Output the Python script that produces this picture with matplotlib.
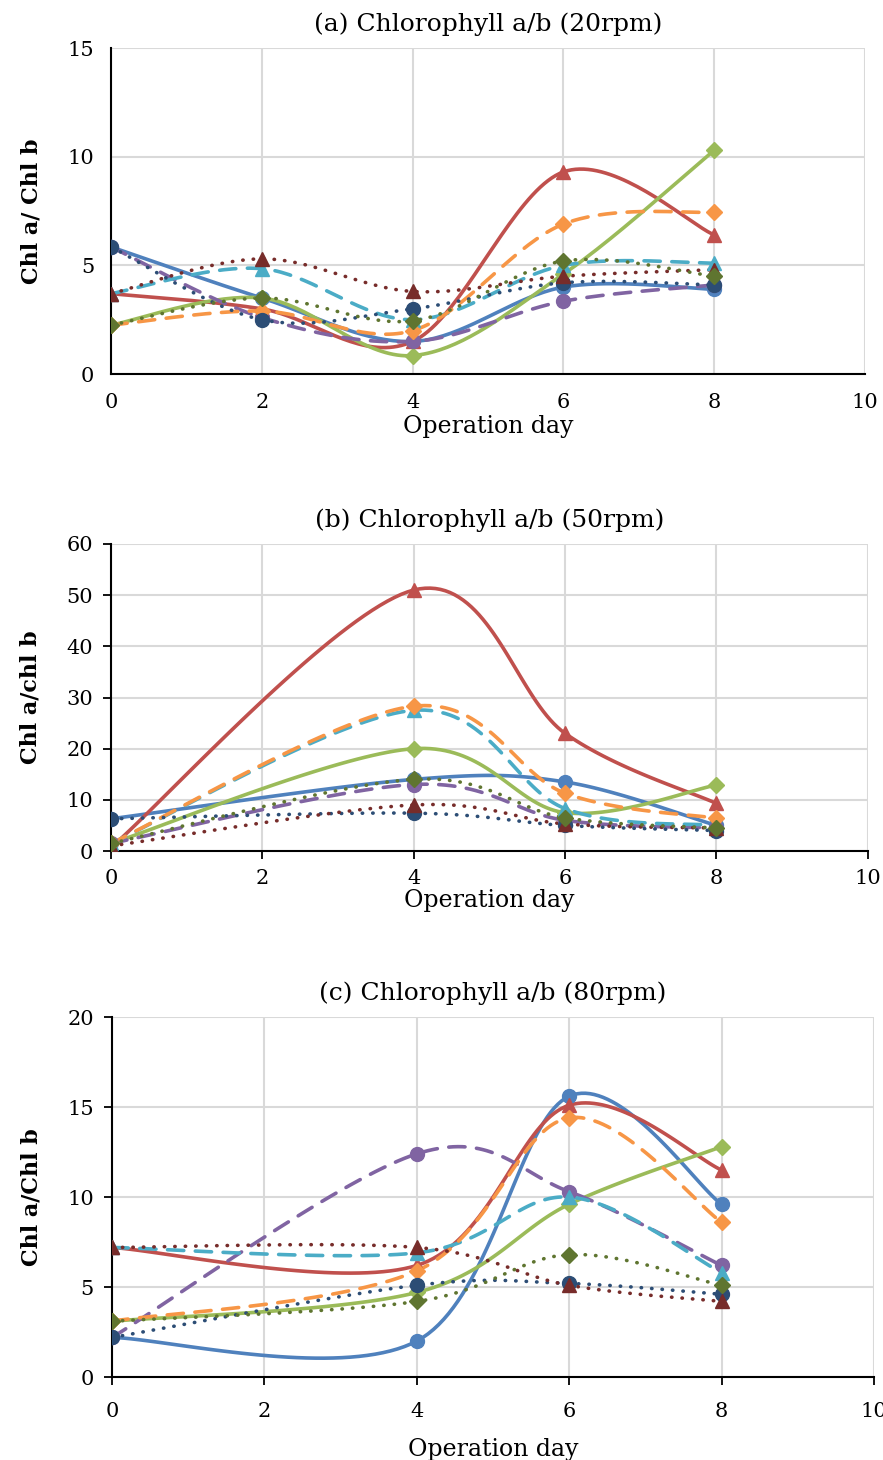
import matplotlib.pyplot as plt
import numpy as np

plt.rcParams['font.family'] = ['DejaVu Serif']

# ---- data ----
days_a = [0, 2, 4, 6, 8]
days_bc = [0, 4, 6, 8]

# series order: solid (circle, triangle, diamond), dashed (...), dotted (...)
chl_20 = {
    'blue':   [5.85, 3.5, 1.5, 4.0, 3.9],
    'red':    [3.7, 3.0, 1.5, 9.3, 6.4],
    'green':  [2.25, 3.5, 0.85, 4.6, 10.3],
    'purple': [5.85, 2.6, 1.5, 3.35, 4.1],
    'aqua':   [3.7, 4.85, 2.5, 5.0, 5.1],
    'orange': [2.25, 2.9, 2.0, 6.9, 7.45],
    'dblue':  [5.85, 2.5, 3.0, 4.2, 4.1],
    'dred':   [3.7, 5.3, 3.8, 4.5, 4.8],
    'dgreen': [2.25, 3.5, 2.45, 5.2, 4.5],
}
chl_50 = {
    'blue':   [6.3, 14.0, 13.5, 5.0],
    'red':    [0.7, 51.0, 23.0, 9.3],
    'green':  [1.5, 20.0, 7.5, 12.9],
    'purple': [1.5, 13.0, 6.0, 4.5],
    'aqua':   [1.5, 27.5, 8.3, 5.0],
    'orange': [1.5, 28.3, 11.3, 6.4],
    'dblue':  [6.3, 7.4, 5.0, 4.0],
    'dred':   [1.0, 9.0, 5.3, 4.5],
    'dgreen': [1.5, 14.0, 6.5, 4.5],
}
chl_80 = {
    'blue':   [2.2, 2.0, 15.6, 9.6],
    'red':    [7.2, 6.2, 15.1, 11.5],
    'green':  [3.1, 4.7, 9.6, 12.8],
    'purple': [2.2, 12.4, 10.3, 6.2],
    'aqua':   [7.2, 6.9, 10.0, 5.8],
    'orange': [3.1, 5.9, 14.4, 8.6],
    'dblue':  [2.2, 5.1, 5.2, 4.6],
    'dred':   [7.2, 7.2, 5.1, 4.2],
    'dgreen': [3.1, 4.2, 6.8, 5.1],
}

colors = {'blue': '#4F81BD', 'red': '#C0504D', 'green': '#9BBB59',
          'purple': '#8064A2', 'aqua': '#4BACC6', 'orange': '#F79646',
          'dblue': '#2C4D75', 'dred': '#772C2A', 'dgreen': '#5F7530'}
markers = {'blue': 'o', 'red': '^', 'green': 'D',
           'purple': 'o', 'aqua': '^', 'orange': 'D',
           'dblue': 'o', 'dred': '^', 'dgreen': 'D'}
dash = (0, (4.5, 3.2))
dots = (0, (0.1, 2.8))
styles = {'blue': '-', 'red': '-', 'green': '-',
          'purple': dash, 'aqua': dash, 'orange': dash,
          'dblue': dots, 'dred': dots, 'dgreen': dots}


def smooth(x, y, n=40):
    """Excel-like smoothed line (cubic Bezier through the points)."""
    p = np.column_stack([x, y]).astype(float)
    ext = np.vstack([p[0], p, p[-1]])
    t = np.linspace(0, 1, n)[:, None]
    out = []
    for i in range(len(p) - 1):
        p0, p1, p2, p3 = ext[i], ext[i + 1], ext[i + 2], ext[i + 3]
        c1 = p1 + (p2 - p0) / 6
        c2 = p2 - (p3 - p1) / 6
        seg = ((1 - t) ** 3) * p1 + 3 * ((1 - t) ** 2) * t * c1 \
            + 3 * (1 - t) * t ** 2 * c2 + t ** 3 * p2
        out.append(seg if i == 0 else seg[1:])
    out = np.vstack(out)
    return out[:, 0], out[:, 1]


def draw_panel(ax, days, data, title, ylabel, ymax, ystep, ticks_out):
    for name, vals in data.items():
        sx, sy = smooth(days, vals)
        ax.plot(sx, sy, color=colors[name], lw=2.6, ls=styles[name],
                dash_capstyle='round', solid_capstyle='round', zorder=3)
        ms = 8.5 if markers[name] == 'D' else 10
        ax.plot(days, vals, ls='none', marker=markers[name], ms=ms,
                color=colors[name], mec=colors[name], zorder=4)
    ax.set_xlim(0, 10)
    ax.set_ylim(0, ymax)
    ax.set_xticks(range(0, 11, 2))
    ax.set_yticks(np.arange(0, ymax + 0.1, ystep))
    ax.grid(True, color='#D9D9D9', lw=1.5)
    ax.set_axisbelow(True)
    for s in ['top', 'right']:
        ax.spines[s].set_visible(False)
    for s in ['left', 'bottom']:
        ax.spines[s].set_linewidth(1.5)
    ax.spines['bottom'].set_bounds(0, 10)
    if ticks_out:
        ax.tick_params(direction='out', length=6, width=1.3)
    else:
        ax.tick_params(length=0)
    ax.tick_params(labelsize=15, pad=7)
    ax.set_title(title, fontsize=18, pad=12)
    ax.set_xlabel('Operation day', fontsize=17, labelpad=4)
    ax.set_ylabel(ylabel, fontsize=16, fontweight='bold', labelpad=18)


fig = plt.figure(figsize=(8.83, 14.6), dpi=100)
ax1 = fig.add_axes([0.1257, 0.7438, 0.854, 0.2233])
ax2 = fig.add_axes([0.1257, 0.4171, 0.857, 0.2103])
ax3 = fig.add_axes([0.1268, 0.0568, 0.863, 0.2466])

draw_panel(ax1, days_a, chl_20, '(a) Chlorophyll a/b (20rpm)', 'Chl a/ Chl b', 15, 5, False)
draw_panel(ax2, days_bc, chl_50, '(b) Chlorophyll a/b (50rpm)', 'Chl a/chl b', 60, 10, True)
draw_panel(ax3, days_bc, chl_80, '(c) Chlorophyll a/b (80rpm)', 'Chl a/Chl b', 20, 5, True)
ax1.tick_params(axis='x', pad=14)
ax1.tick_params(axis='y', pad=12)
ax1.xaxis.labelpad = 2
ax2.tick_params(axis='x', pad=7)
ax2.xaxis.labelpad = 1
ax3.tick_params(axis='x', pad=12)
ax3.xaxis.labelpad = 12

fig.savefig('out.png', dpi=100)
